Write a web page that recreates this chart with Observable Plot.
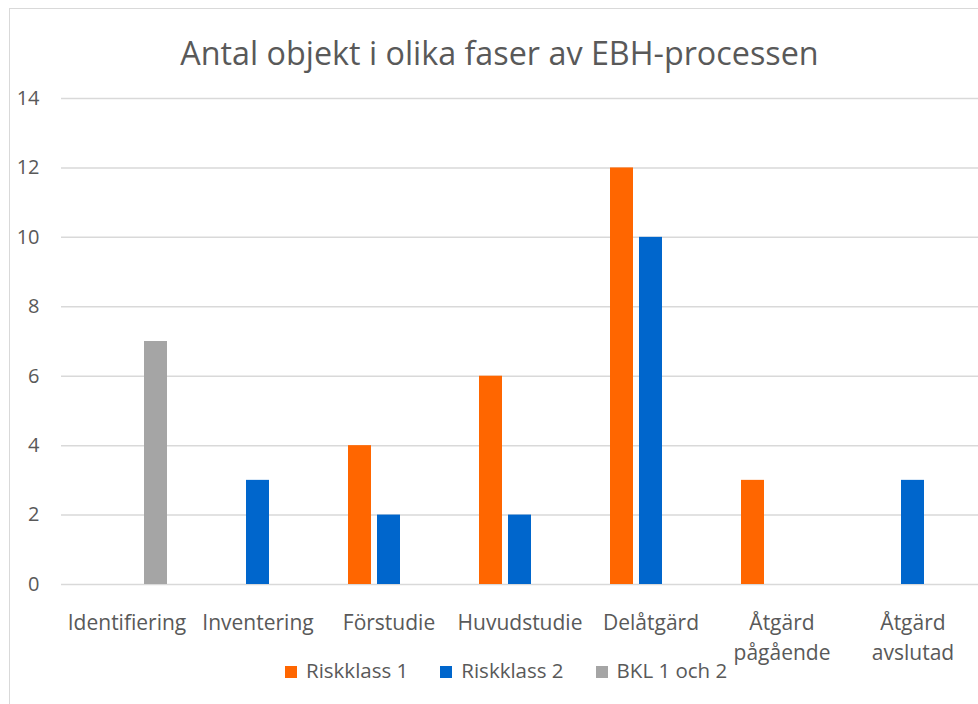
<!DOCTYPE html>
<html><head><meta charset="utf-8">
<script src="https://cdn.jsdelivr.net/npm/d3@7"></script>
<script src="https://cdn.jsdelivr.net/npm/@observablehq/plot@0.6"></script>
<style>
html,body{margin:0;padding:0;background:#fff;overflow:hidden;}
#wrap{position:relative;width:978px;height:704px;overflow:hidden;font-family:"Open Sans",sans-serif;color:#595959;background:#fff;}
#frame{position:absolute;left:9px;top:8px;width:1200px;height:1200px;border:1.5px solid #d9d9d9;box-sizing:border-box;}
#title{position:absolute;left:0;width:999px;top:36px;text-align:center;font-size:32.3px;line-height:32.3px;white-space:nowrap;}
#chart{position:absolute;left:0;top:0;}
#legend{position:absolute;left:285px;top:660px;font-size:20.5px;line-height:20px;white-space:nowrap;}
#legend .item{display:inline-block;margin-right:32px;}
#legend .sw{display:inline-block;width:12px;height:12px;margin-right:9px;vertical-align:baseline;}
</style></head><body>
<div id="wrap"><div id="frame"></div><div id="title"></div><div id="chart"></div><div id="legend"></div></div>
<script>
const titleText = "Antal objekt i olika faser av EBH-processen";
const categories = ["Identifiering","Inventering","Förstudie","Huvudstudie","Delåtgärd","Åtgärd pågående","Åtgärd avslutad"];
const seriesNames = ["Riskklass 1","Riskklass 2","BKL 1 och 2"];
const riskklass1 = [null,null,4,6,12,3,null];
const riskklass2 = [null,3,2,2,10,null,3];
const bkl12 = [7,null,null,null,null,null,null];
const seriesColors = ["#FF6600","#0066CC","#A5A5A5"];
const yTicks = [0,2,4,6,8,10,12,14];

const seriesValues = [riskklass1, riskklass2, bkl12];
const data = [];
seriesNames.forEach((s, si) => {
  categories.forEach((c, ci) => {
    const v = seriesValues[si][ci];
    if (v != null) data.push({category: c, series: s, value: v});
  });
});

document.getElementById("title").textContent = titleText;

const chart = Plot.plot({
  width: 978, height: 704,
  marginTop: 98, marginBottom: 120, marginLeft: 61, marginRight: 0,
  style: {fontFamily: "'Open Sans', sans-serif", fontSize: "20px", color: "#595959", background: "transparent", overflow: "visible"},
  fx: {domain: categories, paddingInner: 0, paddingOuter: 0, label: null},
  x: {domain: seriesNames, paddingInner: 0.21, paddingOuter: 0.855, axis: null},
  y: {domain: [0, 14], label: null},
  color: {domain: seriesNames, range: seriesColors},
  marks: [
    Plot.gridY(yTicks, {stroke: "#d9d9d9", strokeOpacity: 1, strokeWidth: 1.5}),
    Plot.axisY(yTicks, {tickSize: 0, tickPadding: 22, fontSize: 20, label: null, fill: "#595959"}),
    Plot.axisFx({anchor: "bottom", tickSize: 0, tickPadding: 24.5, lineHeight: 1.43, fontSize: 21, label: null, fill: "#595959",
      tickFormat: d => d.replace(" ", "\n")}),
    Plot.barY(data, {fx: "category", x: "series", y: "value", fill: "series"})
  ]
});
document.getElementById("chart").appendChild(chart);

const legend = document.getElementById("legend");
seriesNames.forEach((s, i) => {
  const item = document.createElement("span");
  item.className = "item";
  const sw = document.createElement("span");
  sw.className = "sw";
  sw.style.background = seriesColors[i];
  item.appendChild(sw);
  item.appendChild(document.createTextNode(s));
  legend.appendChild(item);
});
</script>
</body></html>
